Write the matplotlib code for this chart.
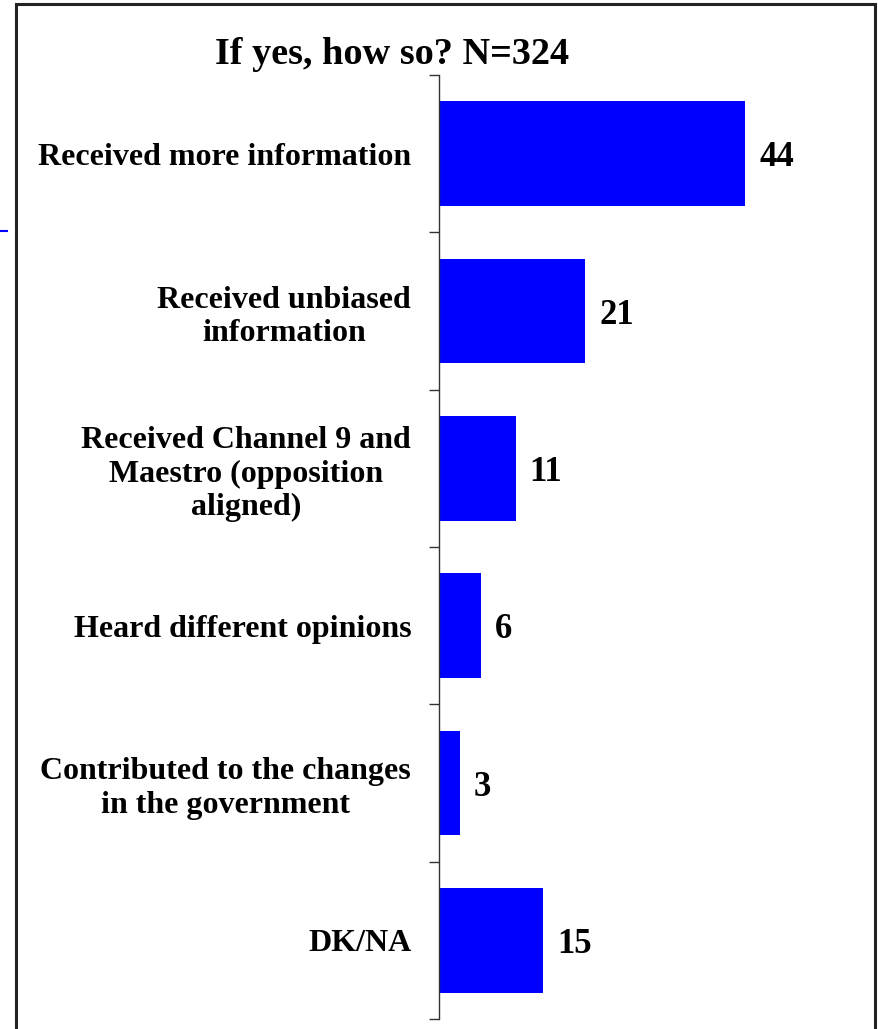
import matplotlib
matplotlib.use("Agg")
import matplotlib.pyplot as plt
from matplotlib.lines import Line2D
from matplotlib.patches import Rectangle

title = "If yes, how so? N=324"
categories = [
    "Received more information",
    "Received unbiased\ninformation",
    "Received Channel 9 and\nMaestro (opposition\naligned)",
    "Heard different opinions",
    "Contributed to the changes\nin the government",
    "DK/NA",
]
values = [44, 21, 11, 6, 3, 15]

plt.rcParams['font.family'] = ['Liberation Serif', 'DejaVu Serif']
plt.rcParams['font.weight'] = 'bold'

W, H = 879, 1029
fig = plt.figure(figsize=(W / 100, H / 100), dpi=100)

# outer frame
fig.add_artist(Rectangle((16 / W, -0.05), (875 - 16) / W, 1.05 - 4 / H,
                         transform=fig.transFigure, fill=False,
                         edgecolor='#222222', linewidth=2.2))
# small blue arrow stub at left
fig.add_artist(Line2D([0, 7 / W], [1 - 231 / H, 1 - 231 / H],
                      transform=fig.transFigure, color='#0000ff', linewidth=1.5))

ax = fig.add_axes([439 / W, 1 - 1019 / H, (836 - 439) / W, (1019 - 75) / H])
ypos = list(range(len(categories)))
ax.barh(ypos, values, height=0.667, color='#0000ff', edgecolor='none')
ax.set_xlim(0, 57)
ax.set_ylim(len(categories) - 0.5, -0.5)

for s in ['top', 'right', 'bottom']:
    ax.spines[s].set_visible(False)
ax.spines['left'].set_color('#333333')
ax.spines['left'].set_linewidth(1.0)
ax.set_xticks([])

ax.set_yticks(ypos)
ax.set_yticklabels(categories, fontsize=23, fontweight='bold', ha='right',
                   multialignment='center', linespacing=1.2)
ax.tick_params(axis='y', which='major', length=0, pad=20)
ax.set_yticks([i - 0.5 for i in range(len(categories) + 1)], minor=True)
ax.tick_params(axis='y', which='minor', length=7, width=1.0, color='#333333',
               direction='out')

for y, v in zip(ypos, values):
    ax.annotate(str(v), (v, y), xytext=(10, -3), textcoords='offset points',
                ha='left', va='center', fontsize=25, fontweight='bold')

fig.text(392 / W, 1 - 54 / H, title, ha='center', va='center',
         fontsize=27.5, fontweight='bold')

fig.savefig("out.png", dpi=100)
